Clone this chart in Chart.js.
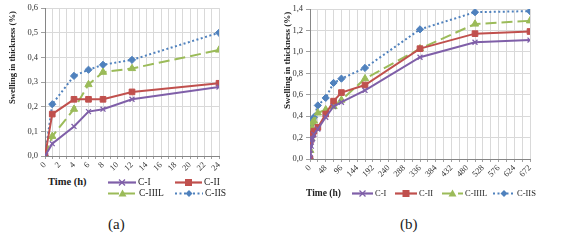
<!DOCTYPE html>
<html>
<head>
<meta charset="utf-8">
<script src="https://cdn.jsdelivr.net/npm/chart.js@4/dist/chart.umd.min.js"></script>
<style>
  html, body { margin: 0; padding: 0; background: #fff; }
  body { width: 567px; height: 240px; position: relative; overflow: hidden; font-family: "Liberation Serif", "Times New Roman", "DejaVu Serif", serif; color: #222; }
  .box { position: absolute; }
  .ytitle { position: absolute; font-weight: bold; white-space: nowrap; transform-origin: 0 0; transform: rotate(-90deg); }
  .xtitle { position: absolute; font-weight: bold; white-space: nowrap; line-height: 12px; }
  .leg { position: absolute; white-space: nowrap; display: flex; align-items: center; height: 11px; line-height: 11px; }
  .leg svg { margin-right: 2px; }
  .cap { position: absolute; font-size: 15px; white-space: nowrap; line-height: 18px; }
</style>
</head>
<body>
<div class="box" style="left:0;top:0;width:230px;height:175px;"><canvas id="ca"></canvas></div>
<div class="box" style="left:280px;top:0;width:260px;height:178px;"><canvas id="cb"></canvas></div>

<div class="ytitle" style="left:7px;top:104px;font-size:8.6px;">Swelling in thickness (%)</div>
<div class="ytitle" style="left:282px;top:109px;font-size:9px;">Swelling in thickness (%)</div>

<div class="xtitle" style="left:48px;top:176px;font-size:10.5px;">Time (h)</div>
<div class="xtitle" style="left:306px;top:187px;font-size:9.5px;">Time (h)</div>

<div id="legA"></div>
<div id="legB"></div>

<div class="cap" style="left:108px;top:215px;">(a)</div>
<div class="cap" style="left:400px;top:215px;">(b)</div>

<script>
// ---------- DATA ----------
const seriesNames = ["C-I", "C-II", "C-IIIL", "C-IIS"];

const hoursA = [0, 1, 4, 6, 8, 12, 24];
const cI_A    = [0, 0.05, 0.12, 0.18, 0.19, 0.23, 0.28];
const cII_A   = [0, 0.17, 0.23, 0.23, 0.23, 0.26, 0.295];
const cIIIL_A = [0, 0.08, 0.19, 0.29, 0.34, 0.355, 0.43];
const cIIS_A  = [0, 0.21, 0.325, 0.35, 0.37, 0.39, 0.50];

const hoursB = [0, 1, 4, 6, 8, 12, 24, 48, 72, 96, 168, 336, 504, 672];
const cI_B    = [0, 0.05, 0.12, 0.18, 0.19, 0.23, 0.28, 0.39, 0.49, 0.53, 0.64, 0.95, 1.09, 1.11];
const cII_B   = [0, 0.17, 0.23, 0.23, 0.23, 0.26, 0.295, 0.42, 0.54, 0.62, 0.69, 1.03, 1.17, 1.19];
const cIIIL_B = [0, 0.08, 0.19, 0.29, 0.34, 0.355, 0.43, 0.46, 0.49, 0.55, 0.75, 1.03, 1.26, 1.29];
const cIIS_B  = [0, 0.21, 0.325, 0.35, 0.37, 0.39, 0.50, 0.57, 0.71, 0.75, 0.85, 1.21, 1.37, 1.38];

const xTicksA = [0, 2, 4, 6, 8, 10, 12, 14, 16, 18, 20, 22, 24];
const xTicksB = [0, 48, 96, 144, 192, 240, 288, 336, 384, 432, 480, 528, 576, 624, 672];

// ---------- STYLES ----------
const styles = [
  { color: "#7F5FA8", point: "crossRot", radius: 3.5, dash: [] },
  { color: "#C0504D", point: "rect", radius: 4, dash: [] },
  { color: "#9BBB59", point: "triangle", radius: 4.2, dash: [11, 5] },
  { color: "#4F81BD", point: "rectRot", radius: 3.6, dash: [2, 2.5] }
];

const FONT = "'Liberation Serif', 'Times New Roman', 'DejaVu Serif', serif";

function buildDatasets(xs, arrays) {
  return arrays.map((vals, i) => {
    const s = styles[i];
    return {
      label: seriesNames[i],
      data: xs.map((x, j) => ({ x: x, y: vals[j] })),
      borderColor: s.color,
      backgroundColor: s.color,
      borderWidth: 2,
      borderDash: s.dash,
      pointStyle: s.point,
      pointRadius: s.radius,
      pointBorderWidth: s.point === "crossRot" ? 1.3 : 1,
      pointBorderColor: s.color,
      pointBackgroundColor: s.color,
      tension: 0,
      fill: false
    };
  });
}

function makeChart(id, xs, arrays, xMax, xLabels, yMax, yW, xH, padRight, padTop) {
  const labelSet = new Set(xLabels);
  return new Chart(document.getElementById(id), {
    type: "line",
    data: { datasets: buildDatasets(xs, arrays) },
    options: {
      responsive: true,
      maintainAspectRatio: false,
      animation: false,
      layout: { padding: { left: 0, right: padRight, top: padTop, bottom: 0 } },
      plugins: { legend: { display: false }, tooltip: { enabled: false } },
      scales: {
        x: {
          type: "linear",
          min: 0, max: xMax,
          afterBuildTicks: (scale) => {
            const step = xMax === 24 ? 1 : 24;
            const t = [];
            for (let v = 0; v <= xMax; v += step) t.push({ value: v });
            scale.ticks = t;
          },
          afterFit: (scale) => { scale.height = xH; },
          grid: { color: "#D9D9D9", lineWidth: 1, tickLength: 3, tickColor: "#A0A0A0" },
          border: { color: "#868686", width: 1 },
          ticks: {
            autoSkip: false,
            minRotation: 45, maxRotation: 45,
            padding: 1,
            color: "#333",
            font: { family: FONT, size: 8.5 },
            callback: (v) => labelSet.has(v) ? String(v) : ""
          }
        },
        y: {
          min: 0, max: yMax,
          afterBuildTicks: (scale) => {
            const t = [];
            const step = yMax > 1 ? 0.2 : 0.1;
            const n = Math.round(yMax / step);
            for (let k = 0; k <= n; k++) t.push({ value: +(k * step).toFixed(2) });
            scale.ticks = t;
          },
          afterFit: (scale) => { scale.width = yW; },
          grid: { color: "#D9D9D9", lineWidth: 1, tickLength: 4, tickColor: "#A0A0A0" },
          border: { color: "#868686", width: 1 },
          ticks: {
            padding: 3,
            color: "#333",
            font: { family: FONT, size: 8.5 },
            callback: (v) => v.toFixed(1).replace(".", ",")
          }
        }
      }
    }
  });
}

makeChart("ca", hoursA, [cI_A, cII_A, cIIIL_A, cIIS_A], 24, xTicksA, 0.6, 45, 19, 11, 8);
makeChart("cb", hoursB, [cI_B, cII_B, cIIIL_B, cIIS_B], 672, xTicksB, 1.4, 30, 19, 10, 9);

// ---------- LEGENDS (HTML) ----------
function markerSVG(i, cx, cy) {
  const c = styles[i].color;
  if (i === 0) return `<path d="M${cx-3} ${cy-3}L${cx+3} ${cy+3}M${cx+3} ${cy-3}L${cx-3} ${cy+3}" stroke="${c}" stroke-width="1.3"/>`;
  if (i === 1) return `<rect x="${cx-3.5}" y="${cy-3.5}" width="7" height="7" fill="${c}"/>`;
  if (i === 2) return `<path d="M${cx} ${cy-4}L${cx+4} ${cy+3}L${cx-4} ${cy+3}Z" fill="${c}"/>`;
  return `<path d="M${cx} ${cy-3.5}L${cx+3.5} ${cy}L${cx} ${cy+3.5}L${cx-3.5} ${cy}Z" fill="${c}"/>`;
}
function legendItem(i, w, left, top, fs) {
  const s = styles[i];
  const da = s.dash.length ? `stroke-dasharray="${s.dash.join(",")}"` : "";
  return `<div class="leg" style="left:${left}px;top:${top}px;font-size:${fs}px;">` +
    `<svg width="${w}" height="9"><line x1="0" y1="4.5" x2="${w}" y2="4.5" stroke="${s.color}" stroke-width="2.2" ${da}/>` +
    markerSVG(i, w / 2, 4.5) + `</svg>${seriesNames[i]}</div>`;
}
document.getElementById("legA").innerHTML =
  legendItem(0, 28, 108, 176.5, 9.5) + legendItem(1, 27, 175, 176.5, 9.5) +
  legendItem(2, 29, 108, 188, 9.5) + legendItem(3, 28, 175, 188, 9.5);
document.getElementById("legB").innerHTML =
  legendItem(0, 21, 352, 188, 8.5) + legendItem(1, 22, 395, 188, 8.5) +
  legendItem(2, 21, 442, 188, 8.5) + legendItem(3, 22, 493, 188, 8.5);
</script>
</body>
</html>
